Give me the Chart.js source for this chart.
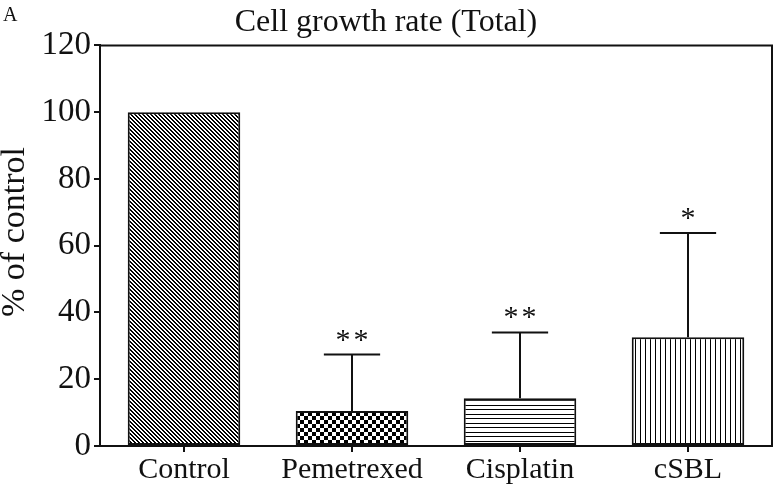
<!DOCTYPE html>
<html>
<head>
<meta charset="utf-8">
<title>Cell growth rate (Total)</title>
<script src="https://cdn.jsdelivr.net/npm/chart.js@4/dist/chart.umd.min.js"></script>
<style>
  html, body { margin: 0; padding: 0; background: #fff; }
  #wrap { width: 774px; height: 488px; position: relative; }
</style>
</head>
<body>
<div id="wrap"><canvas id="growthChart" width="774" height="488"></canvas></div>
<script>
// chart data
const categories = ["Control", "Pemetrexed", "Cisplatin", "cSBL"];
const growthValues = [100, 10.5, 14.3, 32.6];
const errorValues = [0, 16.9, 19.7, 31.2];
const starLabels = ["", "**", "**", "*"];
const yTicks = [0, 20, 40, 60, 80, 100, 120];

const serif = "'Liberation Serif', 'DejaVu Serif', serif";

// build a small repeating fill pattern from a pixel rule
function makePattern(w, h, isInk) {
  const c = document.createElement("canvas");
  c.width = w;
  c.height = h;
  const g = c.getContext("2d");
  const img = g.createImageData(w, h);
  for (let y = 0; y < h; y++) {
    for (let x = 0; x < w; x++) {
      const v = isInk(x, y) ? 0 : 255;
      const i = (y * w + x) * 4;
      img.data[i] = v;
      img.data[i + 1] = v;
      img.data[i + 2] = v;
      img.data[i + 3] = 255;
    }
  }
  g.putImageData(img, 0, 0);
  return g.createPattern(c, "repeat");
}

const ctx = document.getElementById("growthChart").getContext("2d");

const fills = [
  makePattern(4, 4, (x, y) => ((x - y + 8) % 4) < 2),                         // diagonal
  makePattern(8, 8, (x, y) => (Math.floor(x / 4) + Math.floor(y / 4)) % 2 === 0), // checker
  makePattern(9, 9, (x, y) => y === 0 || y === 4),                          // horizontal lines
  makePattern(5, 5, (x, y) => x === 0)                                       // vertical lines
];

// error bars, stars, frame and extra labels
const extrasPlugin = {
  id: "extras",
  afterDatasetsDraw(chart) {
    const g = chart.ctx;
    const yScale = chart.scales.y;
    const meta = chart.getDatasetMeta(0);
    const area = chart.chartArea;

    g.save();
    g.strokeStyle = "#111";
    g.lineWidth = 2;

    meta.data.forEach((bar, i) => {
      if (!errorValues[i]) return;
      const yTop = yScale.getPixelForValue(growthValues[i] + errorValues[i]);
      const yBar = yScale.getPixelForValue(growthValues[i]);
      const half = bar.width / 4;
      g.beginPath();
      g.moveTo(bar.x, yBar);
      g.lineTo(bar.x, yTop);
      g.moveTo(bar.x - half, yTop);
      g.lineTo(bar.x + half, yTop);
      g.stroke();

      // significance stars above the cap
      const stars = starLabels[i].split("");
      g.fillStyle = "#111";
      g.font = "30px " + serif;
      g.textAlign = "center";
      g.textBaseline = "alphabetic";
      stars.forEach((s, k) => {
        const dx = (k - (stars.length - 1) / 2) * 18;
        g.fillText(s, bar.x + dx, yTop - 6);
      });
    });

    // top and right frame lines
    g.beginPath();
    g.moveTo(area.left, area.top);
    g.lineTo(area.right, area.top);
    g.lineTo(area.right, area.bottom);
    g.stroke();

    // panel letter
    g.fillStyle = "#111";
    g.font = "20px " + serif;
    g.textAlign = "left";
    g.textBaseline = "alphabetic";
    g.fillText("A", 3, 21);

    // y axis title
    g.translate(15, 232);
    g.rotate(-Math.PI / 2);
    g.font = "34px " + serif;
    g.textAlign = "center";
    g.textBaseline = "middle";
    g.fillText("% of control", 0, 0);
    g.restore();
  }
};

new Chart(ctx, {
  type: "bar",
  data: {
    labels: categories,
    datasets: [{
      data: growthValues,
      backgroundColor: fills,
      borderColor: "#111",
      borderWidth: 2,
      borderSkipped: false,
      barPercentage: 0.67,
      categoryPercentage: 1.0
    }]
  },
  options: {
    responsive: false,
    animation: false,
    devicePixelRatio: 1,
    layout: { padding: { left: 0, right: 2, top: 0, bottom: 0 } },
    plugins: {
      legend: { display: false },
      tooltip: { enabled: false },
      title: {
        display: true,
        text: "Cell growth rate (Total)",
        color: "#111",
        font: { family: serif, size: 32, weight: "normal" },
        padding: { top: 3, bottom: 4 }
      }
    },
    scales: {
      x: {
        offset: true,
        grid: {
          display: true,
          offset: false,
          drawOnChartArea: false,
          drawTicks: true,
          tickLength: 6,
          color: "#111",
          lineWidth: 2
        },
        border: { display: true, color: "#111", width: 2 },
        ticks: {
          color: "#111",
          padding: 0,
          font: { family: serif, size: 30 }
        }
      },
      y: {
        min: 0,
        max: 120,
        afterFit(scale) { scale.width = 100; },
        afterBuildTicks(scale) { scale.ticks = yTicks.map(v => ({ value: v })); },
        grid: {
          display: true,
          drawOnChartArea: false,
          drawTicks: true,
          tickLength: 6,
          color: "#111",
          lineWidth: 2
        },
        border: { display: true, color: "#111", width: 2 },
        ticks: {
          color: "#111",
          padding: 3,
          font: { family: serif, size: 33 }
        }
      }
    }
  },
  plugins: [extrasPlugin]
});
</script>
</body>
</html>
